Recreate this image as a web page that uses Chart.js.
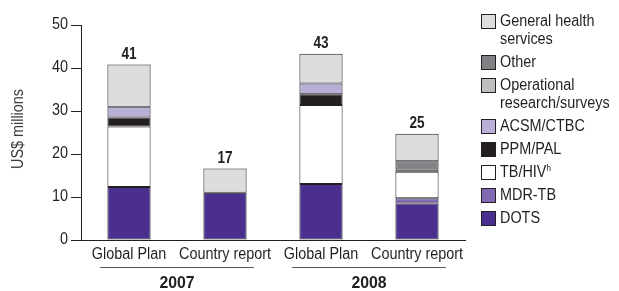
<!DOCTYPE html>
<html>
<head>
<meta charset="utf-8">
<script src="https://cdn.jsdelivr.net/npm/chart.js@4"></script>
<style>
  body { margin: 0; background: #fff; }
  #wrap { position: relative; width: 619px; height: 291px; font-family: "Liberation Sans", sans-serif; color: #231f20; }
  #ytitle { position: absolute; left: 18px; top: 129px; transform: translate(-50%, -50%) rotate(-90deg) scaleX(0.9); font-size: 16px; white-space: nowrap; color: #3a3a3a; }
  #legend { position: absolute; left: 481px; top: 12px; font-size: 16px; line-height: 18px; }
  .item { position: relative; padding-left: 19px; margin-bottom: 5px; white-space: nowrap; }
  .item .txt { display: inline-block; transform: scaleX(0.9); transform-origin: left center; }
  .box { position: absolute; left: 0; top: 2px; width: 13px; height: 13px; border: 1px solid #231f20; }
  sup { font-size: 9px; line-height: 0; vertical-align: 6px; }
</style>
</head>
<body>
<div id="wrap">
  <canvas id="fundChart"></canvas>
  <div id="ytitle">US$ millions</div>
  <div id="legend"></div>
</div>
<script>
// Categories and group labels
const categories = ["Global Plan", "Country report", "Global Plan", "Country report"];
const years = ["2007", "2008"];
const totals = [41, 17, 43, 25];

// Series values (US$ millions), bottom to top of each stack
const dots = [12.3, 11.0, 13.0, 8.5];
const mdrTb = [0, 0, 0, 1.2];
const tbHiv = [14.1, 0, 18.4, 6.2];
const ppmPal = [2.1, 0, 2.5, 0];
const acsmCtbc = [2.4, 0, 2.5, 0];
const opResearch = [0, 0, 0, 0.5];
const other = [0, 0, 0, 1.9];
const generalHealth = [9.9, 5.6, 6.9, 6.4];

const yTicks = [0, 10, 20, 30, 40, 50];

const ink = "#231f20";
const fam = "'Liberation Sans', sans-serif";

// stacking order (bottom first)
const series = [
    { label: "DOTS", data: dots, color: "#4b2f8f" },
    { label: "MDR-TB", data: mdrTb, color: "#8168b2" },
    { label: "TB/HIV<sup>h</sup>", data: tbHiv, color: "#ffffff" },
    { label: "PPM/PAL", data: ppmPal, color: "#231f20" },
    { label: "ACSM/CTBC", data: acsmCtbc, color: "#b9aed6" },
    { label: "Operational<br>research/surveys", data: opResearch, color: "#bdbec0" },
    { label: "Other", data: other, color: "#808285" },
    { label: "General health<br>services", data: generalHealth, color: "#dcdddf" }
];

// html legend, top to bottom
const legend = document.getElementById("legend");
series.slice().reverse().forEach(s => {
    const div = document.createElement("div");
    div.className = "item";
    div.innerHTML = '<span class="box" style="background:' + s.color + '"></span><span class="txt">' + s.label + '</span>';
    legend.appendChild(div);
});

// condensed-looking text: squeeze horizontally
function narrowText(ctx, text, x, y, sx, align) {
    ctx.save();
    ctx.translate(x, y);
    ctx.scale(sx, 1);
    ctx.textAlign = align;
    ctx.fillText(text, 0, 0);
    ctx.restore();
}

// tick labels, totals above bars, year groups under axis
const extras = {
    id: "extras",
    afterDraw(chart) {
        const ctx = chart.ctx;
        const x = chart.scales.x;
        const y = chart.scales.y;
        ctx.save();
        ctx.fillStyle = ink;
        ctx.textBaseline = "middle";

        ctx.font = "16px " + fam;
        yTicks.forEach(v => narrowText(ctx, String(v), 68, y.getPixelForValue(v), 0.9, "right"));
        categories.forEach((c, i) => narrowText(ctx, c, x.getPixelForValue(i), 255, 0.9, "center"));

        ctx.textBaseline = "alphabetic";
        ctx.font = "bold 16px " + fam;
        categories.forEach((c, i) => {
            let sum = 0;
            series.forEach(s => { sum += s.data[i]; });
            narrowText(ctx, String(totals[i]), x.getPixelForValue(i), y.getPixelForValue(sum) - 6, 0.85, "center");
        });

        ctx.strokeStyle = "#555";
        ctx.lineWidth = 1;
        ctx.font = "bold 17px " + fam;
        ctx.textBaseline = "middle";
        years.forEach((yr, g) => {
            const a = x.getPixelForValue(g * 2);
            const b = x.getPixelForValue(g * 2 + 1);
            const mid = (a + b) / 2;
            const half = (b - a) * 0.8;
            ctx.beginPath();
            ctx.moveTo(mid - half, 267.5);
            ctx.lineTo(mid + half, 267.5);
            ctx.stroke();
            narrowText(ctx, yr, mid, 283, 0.93, "center");
        });
        ctx.restore();
    }
};

const ctx = document.getElementById("fundChart").getContext("2d");
new Chart(ctx, {
    type: "bar",
    data: {
        labels: categories,
        datasets: series.map(s => ({
            label: s.label,
            data: s.data,
            backgroundColor: s.color,
            borderColor: ink,
            borderWidth: 1,
            borderSkipped: false,
            barPercentage: 0.9,
            categoryPercentage: 0.5
        }))
    },
    options: {
        responsive: true,
        maintainAspectRatio: false,
        animation: false,
        layout: { padding: { top: 25, right: 154, left: 0, bottom: 0 } },
        plugins: {
            legend: { display: false },
            tooltip: { enabled: false }
        },
        scales: {
            x: {
                stacked: true,
                grid: { display: false },
                border: { display: true, color: ink, width: 1 },
                ticks: { display: false },
                afterFit(scale) { scale.height = 51; }
            },
            y: {
                stacked: true,
                min: 0,
                max: 50,
                afterBuildTicks(scale) { scale.ticks = yTicks.map(v => ({ value: v })); },
                grid: { drawOnChartArea: false, drawTicks: true, tickLength: 10, color: ink },
                border: { display: true, color: ink, width: 1 },
                ticks: { color: "rgba(0,0,0,0)" },
                afterFit(scale) { scale.width = 81; }
            }
        }
    },
    plugins: [extras]
});
</script>
</body>
</html>
